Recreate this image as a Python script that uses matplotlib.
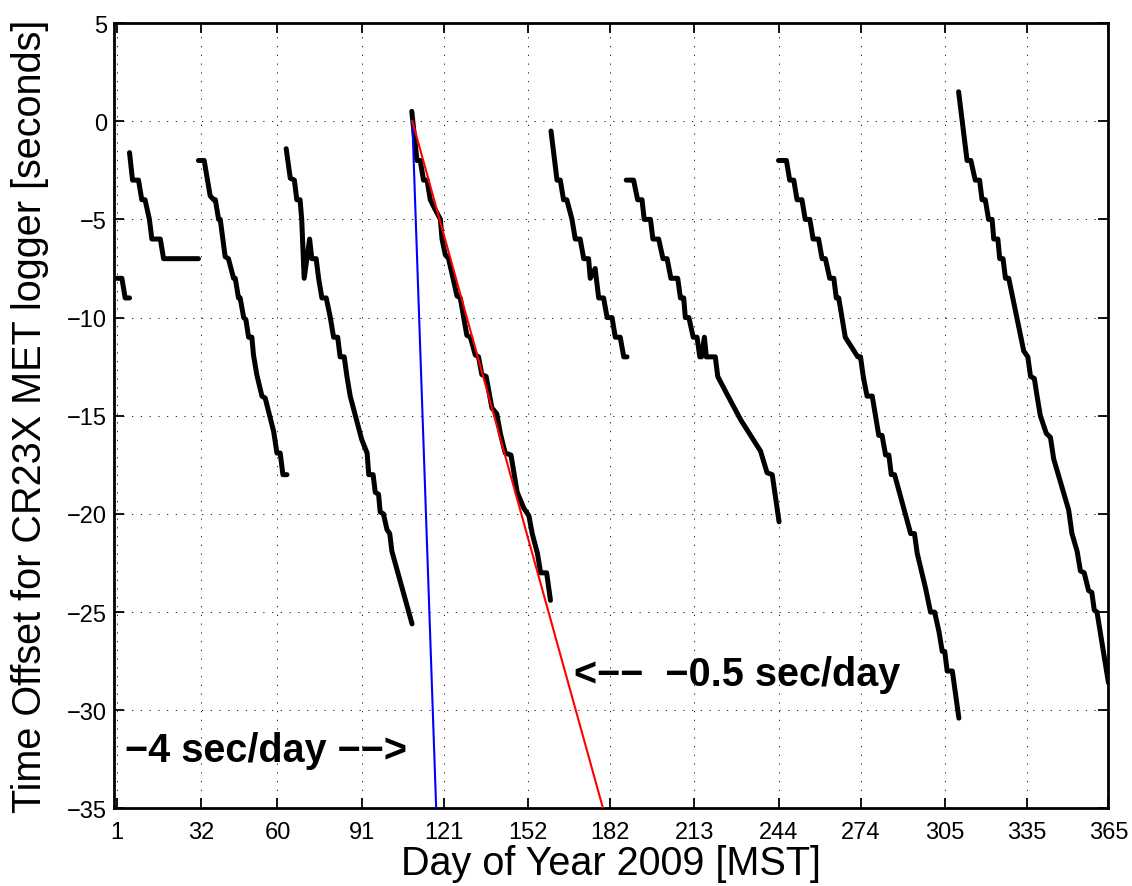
import numpy as np
import matplotlib.pyplot as plt

plt.rcParams['font.family'] = ['Liberation Sans', 'DejaVu Sans']

# logger offset segments (day of year, offset in seconds)
d1 = [1.0, 2.9, 4.1, 5.7]
o1 = [-8, -8, -9, -9]

d2 = [5.7, 6.8, 9.0, 10.2, 11.4, 13.0, 13.9, 17.0, 18.2, 31.0]
o2 = [-1.6, -3, -3, -4, -4, -5, -6, -6, -7, -7]

d3 = [31.0, 33.1, 35.3, 36.6, 37.2, 38.4, 39.0, 40.8, 42.0, 43.9, 44.5, 45.7, 46.3,
      47.6, 48.4, 49.4, 50.6, 51.2, 52.4, 54.3, 55.5, 58.6, 59.8, 61.0, 62.0, 63.5]
o3 = [-2, -2, -3.8, -4, -4, -5, -5, -6.9, -7, -8, -8, -9, -9,
      -10, -10.1, -11, -11, -11.9, -12.9, -14, -14.1, -15.8, -16.9, -16.9, -18, -18]

d4 = [63.2, 64.7, 66.2, 67.1, 68.3, 68.9, 69.8, 71.8, 72.6, 74.2, 75.1, 76.3, 77.9,
      79.4, 80.6, 82.1, 83.0, 84.5, 85.5, 86.7, 90.9, 92.9, 93.5, 95.1, 95.9, 97.1,
      97.7, 98.9, 100.2, 101.2, 102.0, 109.4]
o4 = [-1.4, -2.9, -3, -4, -4, -5, -8, -6, -7, -7, -8, -9, -9,
      -10, -11, -11, -12, -12, -13, -14, -16.2, -16.9, -18, -18, -18.9, -19,
      -19.9, -20, -20.8, -21, -21.9, -25.6]

d5 = [109.3, 111.2, 112.4, 113.6, 114.9, 116.1, 117.9, 119.8, 120.4, 121.6, 122.8,
      125.9, 127.1, 129.5, 130.8, 132.6, 133.8, 135.0, 136.6, 138.7, 140.5, 141.8,
      143.6, 145.7, 148.0, 150.4, 152.3, 153.5, 155.4, 156.6, 158.8, 160.2]
o5 = [0.5, -2, -2, -3, -3, -4, -4.5, -5, -6, -6.8, -7,
      -8.9, -9, -10.9, -11, -11.9, -12, -12.9, -13, -14.6, -14.9, -15.9,
      -16.9, -17, -18.9, -19.7, -20.1, -21, -22, -23, -23, -24.4]

d6 = [160.4, 162.6, 163.8, 165.0, 166.2, 168.1, 169.3, 171.1, 172.4, 174.2,
      174.8, 176.6, 177.9, 179.7, 181.0, 182.8, 184.0, 185.8, 187.1, 188.3]
o6 = [-0.5, -3, -3, -4, -4, -5, -6, -6, -7, -7,
      -8, -7.5, -9, -9, -10, -10, -11, -11, -12, -12]

d7 = [188.0, 190.7, 192.2, 193.8, 194.6, 196.9, 197.8, 199.9, 201.5, 203.0, 204.4,
      206.9, 207.9, 209.1, 209.7, 211.0, 212.6, 214.0, 215.0, 215.6, 216.7, 217.4,
      220.7, 221.6, 225.0, 230.0, 237.3, 239.7, 241.6, 244.1]
o7 = [-3, -3, -4, -4, -5, -5, -6, -6, -7, -7, -8,
      -8, -9, -9, -10, -10, -11, -11, -12, -12, -11, -12,
      -12, -13, -13.9, -15.2, -16.8, -17.9, -18, -20.4]

d8 = [243.9, 246.8, 248.0, 249.5, 250.7, 252.5, 253.7, 255.4, 256.6, 258.6, 259.9,
      261.1, 262.7, 264.2, 265.1, 266.0, 267.2, 268.4, 273.0, 274.0, 275.0, 276.4,
      278.3, 279.5, 280.7, 281.9, 283.2, 284.4, 285.3, 286.5, 292.4, 293.8, 294.8,
      297.9, 299.7, 301.2, 302.8, 304.0, 304.9, 305.8, 307.7, 310.1]
o8 = [-2, -2, -3, -3, -4, -4, -5, -5, -6, -6, -7,
      -7, -8, -8, -9, -9, -10, -11, -12, -12, -13, -14,
      -14, -15, -16, -16, -17, -17, -18, -18, -21, -21, -22,
      -23.8, -25, -25, -26, -27, -27, -28, -28, -30.4]

d9 = [310.0, 313.1, 314.5, 316.1, 317.7, 318.6, 319.8, 321.0, 322.3, 322.9, 324.4,
      325.1, 326.3, 327.2, 328.4, 333.9, 335.4, 336.4, 337.8, 338.8, 340.0, 342.2,
      343.7, 344.9, 350.4, 351.6, 353.5, 354.7, 356.1, 357.7, 358.9, 359.8, 360.8, 365.0]
o9 = [1.5, -2, -2, -3, -3, -4, -4, -5, -5, -6, -6,
      -7, -7, -8, -8, -11.7, -12, -13, -13.1, -14, -15, -15.9,
      -16.1, -17.2, -19.8, -21, -21.9, -22.9, -23, -23.9, -24, -24.9, -25, -28.6]

# drift reference lines
red_day = [109.5, 179.5]   # -0.5 sec/day
red_off = [0, -35]
blue_day = [109.5, 118.25]  # -4 sec/day
blue_off = [0, -35]

xticks = [1, 32, 60, 91, 121, 152, 182, 213, 244, 274, 305, 335, 365]
yticks = np.arange(-35, 6, 5)

fig = plt.figure(figsize=(11.32, 8.87), dpi=100)
ax = fig.add_axes([0.1007, 0.0874, 0.8785, 0.8855])

for d, o in [(d1, o1), (d2, o2), (d3, o3), (d4, o4), (d5, o5),
             (d6, o6), (d7, o7), (d8, o8), (d9, o9)]:
    ax.plot(d, o, color='k', lw=3.6, solid_capstyle='round', solid_joinstyle='round', zorder=3)

ax.plot(blue_day, blue_off, color='#0000ff', lw=1.5, zorder=4)
ax.plot(red_day, red_off, color='#ff0000', lw=1.5, zorder=4)

ax.set_xlim(0, 365)
ax.set_ylim(-35, 5)
ax.set_xticks(xticks)
ax.set_yticks(yticks)
ax.grid(True, color='k', linestyle=(0, (1.5, 9)), lw=0.6)
ax.tick_params(direction='in', length=7, width=1.3, top=True, right=True, labelsize=17)
ax.tick_params(axis='x', pad=9)
ax.tick_params(axis='y', pad=5)
for s in ax.spines.values():
    s.set_linewidth(2)

ax.set_xlabel('Day of Year 2009 [MST]', fontsize=28.5, labelpad=1)
ax.set_ylabel('Time Offset for CR23X MET logger [seconds]', fontsize=28.5, va='center')
ax.yaxis.set_label_coords(-0.0845, 0.5)

ax.text(4.1, -32.6, '\u22124 sec/day \u2212\u2212>', fontsize=28.5, fontweight='bold',
        ha='left', va='baseline', zorder=5)
ax.text(169.0, -28.7, '<\u2212\u2212  \u22120.5 sec/day', fontsize=28.5, fontweight='bold',
        ha='left', va='baseline', zorder=5)

plt.savefig('out.png', dpi=100)
